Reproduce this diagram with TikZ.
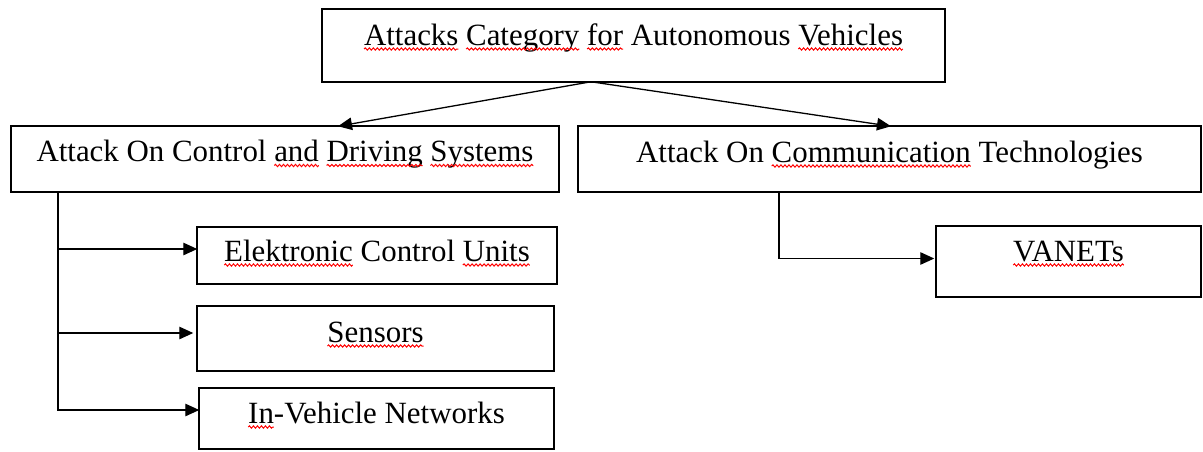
\documentclass[tikz,border=0pt]{standalone}
\usepackage{fontspec}
\setmainfont{Liberation Serif}
\usetikzlibrary{arrows.meta,decorations.pathmorphing}
\newcommand\boxfont{\fontsize{30.9}{36}\selectfont}
\newlength\sqf \newlength\sqb \newlength\sqw
% measure a marked word: id, full text, text before the word, word
\newcommand\defsq[4]{%
  \settowidth\sqf{\normalfont\boxfont #2}\settowidth\sqb{\normalfont\boxfont #3}%
  \settowidth\sqw{\normalfont\boxfont #4}%
  \expandafter\xdef\csname sqx#1\endcsname{\the\dimexpr\sqb-\sqf/2\relax}%
  \expandafter\xdef\csname sqw#1\endcsname{\the\sqw}}
\newcommand\squig[2]{%
  \draw[squig] ([xshift=\csname sqx#2\endcsname, yshift=-4pt]#1.base) -- ++(\csname sqw#2\endcsname,0pt);}
\defsq{a}{Attacks Category for Autonomous Vehicles}{}{Attacks}
\defsq{b}{Attacks Category for Autonomous Vehicles}{Attacks }{Category}
\defsq{c}{Attacks Category for Autonomous Vehicles}{Attacks Category }{for}
\defsq{d}{Attacks Category for Autonomous Vehicles}{Attacks Category for Autonomous }{Vehicles}
\defsq{e}{Attack On Control and Driving Systems}{Attack On Control }{and}
\defsq{f}{Attack On Control and Driving Systems}{Attack On Control and }{Driving}
\defsq{g}{Attack On Control and Driving Systems}{Attack On Control and Driving }{Systems}
\defsq{h}{Attack On Communication Technologies}{Attack On }{Communication}
\defsq{i}{Elektronic Control Units}{}{Elektronic}
\defsq{j}{Elektronic Control Units}{Elektronic Control }{Units}
\defsq{k}{Sensors}{}{Sensors}
\defsq{l}{In-Vehicle Networks}{}{In}
\defsq{m}{VANETs}{}{VANETs}
\tikzset{
  squig/.style={draw=red, line width=1pt, decorate, decoration={snake, amplitude=1.1pt, segment length=4pt}},
  box/.style={draw=black, line width=2.4pt, inner sep=0pt, outer sep=0pt, anchor=base, font=\boxfont},
  conn/.style={black, line width=1.3pt},
  arr/.style={conn, -{Triangle[length=14pt, width=12.5pt]}},
}
\begin{document}
\begin{tikzpicture}[x=1pt, y=-1pt]
\useasboundingbox (0,0) rectangle (1203,451);
\node[box, minimum width=623pt, text height=35.75pt, text depth=36.75pt] (top) at (633.5,45)
  {Attacks Category for Autonomous Vehicles};
\node[box, minimum width=547.5pt, text height=35.25pt, text depth=30.25pt] (left) at (285,161.5)
  {Attack On Control and Driving Systems};
\node[box, minimum width=622.5pt, text height=35.75pt, text depth=29.75pt] (right) at (889.5,162)
  {Attack On Communication Technologies};
\node[box, minimum width=359.5pt, text height=33.75pt, text depth=22.75pt] (ecu) at (377,261)
  {Elektronic Control Units};
\node[box, minimum width=356.5pt, text height=35.75pt, text depth=28.75pt] (sen) at (375.5,342)
  {Sensors};
\node[box, minimum width=354.5pt, text height=34.75pt, text depth=25.75pt] (ivn) at (376.5,423)
  {In-Vehicle Networks};
\node[box, minimum width=264.5pt, text height=34.75pt, text depth=35.75pt] (van) at (1068.5,261)
  {VANETs};
% spelling marks
\squig{top}{a}\squig{top}{b}\squig{top}{c}\squig{top}{d}
\squig{left}{e}\squig{left}{f}\squig{left}{g}
\squig{right}{h}
\squig{ecu}{i}\squig{ecu}{j}
\squig{sen}{k}
\squig{ivn}{l}
\squig{van}{m}
% connectors
\draw[arr] ([xshift=-42.5pt]top.south) -- ([xshift=53pt]left.north);
\draw[arr] ([xshift=-42.5pt]top.south) -- ([xshift=1.5pt]right.north);
\draw[arr] ([xshift=46.75pt]left.south west) |- ([yshift=6.5pt]ecu.west);
\draw[arr, shorten >=4pt] ([xshift=46.75pt]left.south west) |- ([yshift=5.5pt]sen.west);
\draw[arr] ([xshift=46.75pt]left.south west) |- ([yshift=8.5pt]ivn.west);
\draw[arr, shorten >=2pt] ([xshift=200.75pt]right.south west) |- ([yshift=3pt]van.west);
\end{tikzpicture}
\end{document}
